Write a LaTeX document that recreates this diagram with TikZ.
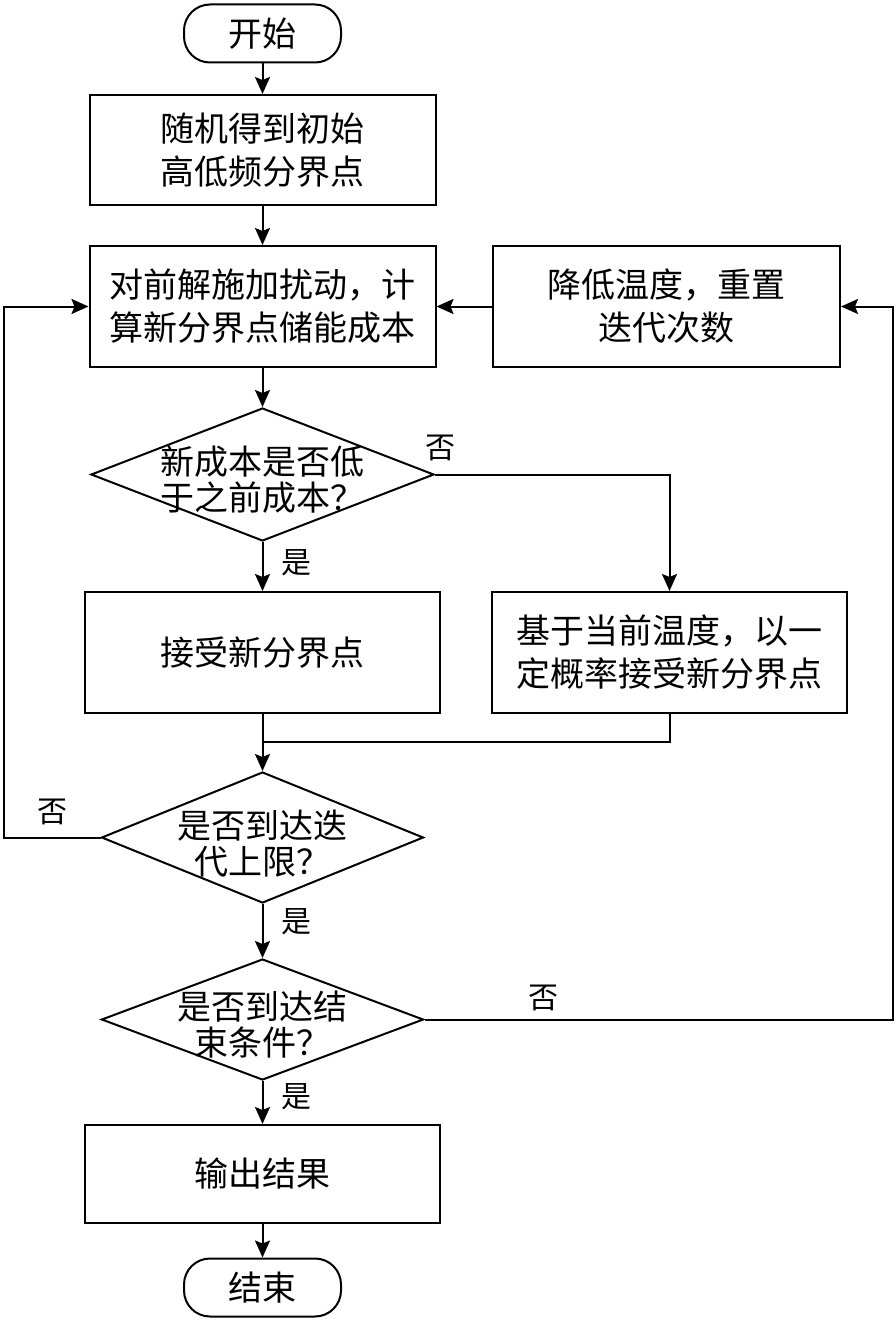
\documentclass[tikz,border=0pt]{standalone}
\usepackage{fontspec}
\newfontfamily\cjk{Noto Sans CJK SC}
\usetikzlibrary{shapes.geometric,arrows.meta}
\begin{document}
\begin{tikzpicture}[x=1pt,y=-1pt, line width=2pt,
  box/.style={draw, rectangle, inner sep=0pt, align=center, font=\cjk\fontsize{34pt}{43pt}\selectfont},
  term/.style={draw, rounded corners=26pt, inner sep=0pt, minimum width=157pt, minimum height=58pt, font=\cjk\fontsize{34pt}{40pt}\selectfont},
  dec/.style={draw, diamond, inner sep=0pt},
  dtext/.style={align=center, font=\cjk\fontsize{34pt}{36pt}\selectfont, inner sep=0pt},
  lab/.style={font=\cjk\fontsize{30pt}{30pt}\selectfont, inner sep=0pt},
  arr/.style={-{Stealth[length=17pt,width=15pt,inset=3pt]}},
]
\useasboundingbox (0,0) rectangle (895,1322);

\node[term] (start) at (262.5,33.5) {开始};
\node[box, minimum width=346pt, minimum height=110pt] (b1) at (262.5,150) {随机得到初始\\高低频分界点};
\node[box, minimum width=346pt, minimum height=121pt] (b2) at (262.5,306.5) {对前解施加扰动，计\\算新分界点储能成本};
\node[box, minimum width=347pt, minimum height=121pt] (b3) at (666.5,306.5) {降低温度，重置\\迭代次数};
\node[dec, minimum width=343pt, minimum height=133pt,
  label={[dtext, yshift=-5pt]center:新成本是否低\\于之前成本？}] (d1) at (262.5,474.5) {};
\node[box, minimum width=355pt, minimum height=121pt] (b4) at (262.5,652.5) {接受新分界点};
\node[box, minimum width=355pt, minimum height=121pt] (b5) at (669.5,652.5) {基于当前温度，以一\\定概率接受新分界点};
\node[dec, minimum width=322pt, minimum height=131pt,
  label={[dtext, yshift=-6pt]center:是否到达迭\\代上限？}] (d2) at (262.5,837.5) {};
\node[dec, minimum width=322pt, minimum height=121pt,
  label={[dtext, yshift=-5pt]center:是否到达结\\束条件？}] (d3) at (262.5,1019.5) {};
\node[box, minimum width=355pt, minimum height=98pt] (b6) at (262.5,1174) {输出结果};
\node[term] (end) at (262.5,1287.5) {结束};

\node[lab] (n1) at (440,448) {否};
\node[lab] (y1) at (296,563) {是};
\node[lab] (n2) at (52,812) {否};
\node[lab] (y2) at (296,922) {是};
\node[lab] (n3) at (543,998) {否};
\node[lab] (y3) at (296,1097) {是};

\coordinate (m) at (262.5,742);
\coordinate (L) at (4,837.5);
\coordinate (R) at (893,1019.5);

\draw[arr] (start) -- (b1);
\draw[arr] (b1) -- (b2);
\draw[arr] (b2) -- (d1);
\draw[arr] (d1) -- (b4);
\draw[arr] (d1.east) -| (b5.north);
\draw (b4.south) -- (m);
\draw (b5.south) |- (m);
\draw[arr] (m) -- (d2.north);
\draw[arr] (d2) -- (d3);
\draw[arr] (d3) -- (b6);
\draw[arr] (b6) -- (end);
\draw[arr] (d2.west) -- (L) |- (b2.west);
\draw[arr] (b3.west) -- (b2.east);
\draw[arr] (d3.east) -- (R) |- (b3.east);
\end{tikzpicture}
\end{document}
